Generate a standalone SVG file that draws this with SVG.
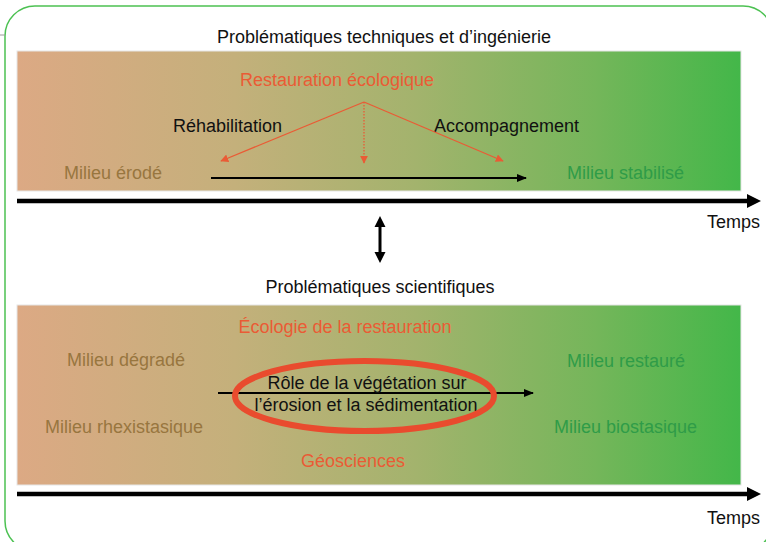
<svg xmlns="http://www.w3.org/2000/svg" width="766" height="542" viewBox="0 0 766 542">
<defs>
<linearGradient id="band" x1="0" y1="0" x2="1" y2="0">
<stop offset="0" stop-color="#dca984"/>
<stop offset="0.3" stop-color="#c4b07b"/>
<stop offset="0.55" stop-color="#a3b36d"/>
<stop offset="0.8" stop-color="#74b65a"/>
<stop offset="1" stop-color="#43b749"/>
</linearGradient>
<marker id="oh" viewBox="0 0 10 10" refX="9" refY="5" markerWidth="8" markerHeight="8" markerUnits="userSpaceOnUse" orient="auto">
<path d="M0,0 L10,5 L0,10 z" fill="#ea5b35"/>
</marker>
<marker id="bh" viewBox="0 0 10 10" refX="9" refY="5" markerWidth="10" markerHeight="10" markerUnits="userSpaceOnUse" orient="auto">
<path d="M0,1 L10,5 L0,9 z" fill="#000"/>
</marker>
</defs>
<style>
text{font-family:"Liberation Sans",Arial,sans-serif;font-size:18px}
.k{fill:#111}
.o{fill:#ea5b35}
.b{fill:#98763f}
.g{fill:#2f9c48}
.c{text-anchor:middle}
.band{fill:url(#band);stroke:#e6e6e6;stroke-width:1}
.axis{stroke:#000;stroke-width:4.5}
.oa{stroke:#ea5b35;stroke-width:1.3;fill:none}
.ba{stroke:#000;stroke-width:2.2;fill:none}
</style>
<rect x="5" y="6" width="768" height="545" rx="30" ry="30" fill="#fff" stroke="#4cc152" stroke-width="1.5"/>
<line x1="0" y1="35" x2="5" y2="35" stroke="#9a9a9a" stroke-width="1"/>

<g id="top-panel">
<text class="k c" x="384" y="43">Problématiques techniques et d’ingénierie</text>
<rect class="band" x="17" y="51" width="724" height="140"/>
</g>
<g id="restauration-ecologique"><text class="o c" x="337" y="86">Restauration écologique</text></g>
<g id="rehabilitation"><text class="k" x="173" y="132">Réhabilitation</text></g>
<g id="accompagnement"><text class="k" x="434" y="132">Accompagnement</text></g>
<g id="milieu-erode"><text class="b" x="64" y="179">Milieu érodé</text></g>
<g id="milieu-stabilise"><text class="g" x="567" y="179">Milieu stabilisé</text></g>
<g id="temps-1"><text class="k" x="760" y="228" text-anchor="end">Temps</text></g>

<g id="bottom-panel">
<text class="k c" x="380" y="293">Problématiques scientifiques</text>
<rect class="band" x="17" y="305" width="724" height="180"/>
</g>
<g id="ecologie-restauration"><text class="o c" x="345" y="333">Écologie de la restauration</text></g>
<g id="milieu-degrade"><text class="b" x="67" y="366">Milieu dégradé</text></g>
<g id="milieu-restaure"><text class="g" x="567" y="367">Milieu restauré</text></g>
<g id="milieu-rhexistasique"><text class="b" x="45" y="433">Milieu rhexistasique</text></g>
<g id="milieu-biostasique"><text class="g" x="554" y="433">Milieu biostasique</text></g>
<g id="geosciences"><text class="o c" x="353" y="467">Géosciences</text></g>
<g id="temps-2"><text class="k" x="760" y="524" text-anchor="end">Temps</text></g>

<g id="connectors">
<line class="axis" x1="17" y1="201" x2="749" y2="201"/>
<path d="M747,194 L761,201 L747,208 z"/>
<line class="axis" x1="17" y1="494" x2="749" y2="494"/>
<path d="M747,487 L761,494 L747,501 z"/>
<line class="oa" x1="364" y1="102" x2="221" y2="161" marker-end="url(#oh)"/>
<line class="oa" x1="364" y1="102" x2="364" y2="163" stroke-dasharray="1.5 1.5" marker-end="url(#oh)"/>
<line class="oa" x1="364" y1="102" x2="503" y2="161" marker-end="url(#oh)"/>
<line class="ba" x1="211" y1="178" x2="526" y2="178" marker-end="url(#bh)"/>
<line x1="380" y1="224" x2="380" y2="256" stroke="#000" stroke-width="3"/>
<path d="M374.5,227 L380,216 L385.5,227 z M374.5,252 L380,263 L385.5,252 z"/>
<line class="ba" x1="218" y1="393" x2="533" y2="393" marker-end="url(#bh)"/>
</g>

<g id="role-vegetation">
<text class="k c" x="367" y="389">Rôle de la végétation sur</text>
<text class="k c" x="366" y="411">l’érosion et la sédimentation</text>
<ellipse cx="364.5" cy="396" rx="129.5" ry="35" fill="none" stroke="#e94b2e" stroke-width="6"/>
</g>
</svg>
